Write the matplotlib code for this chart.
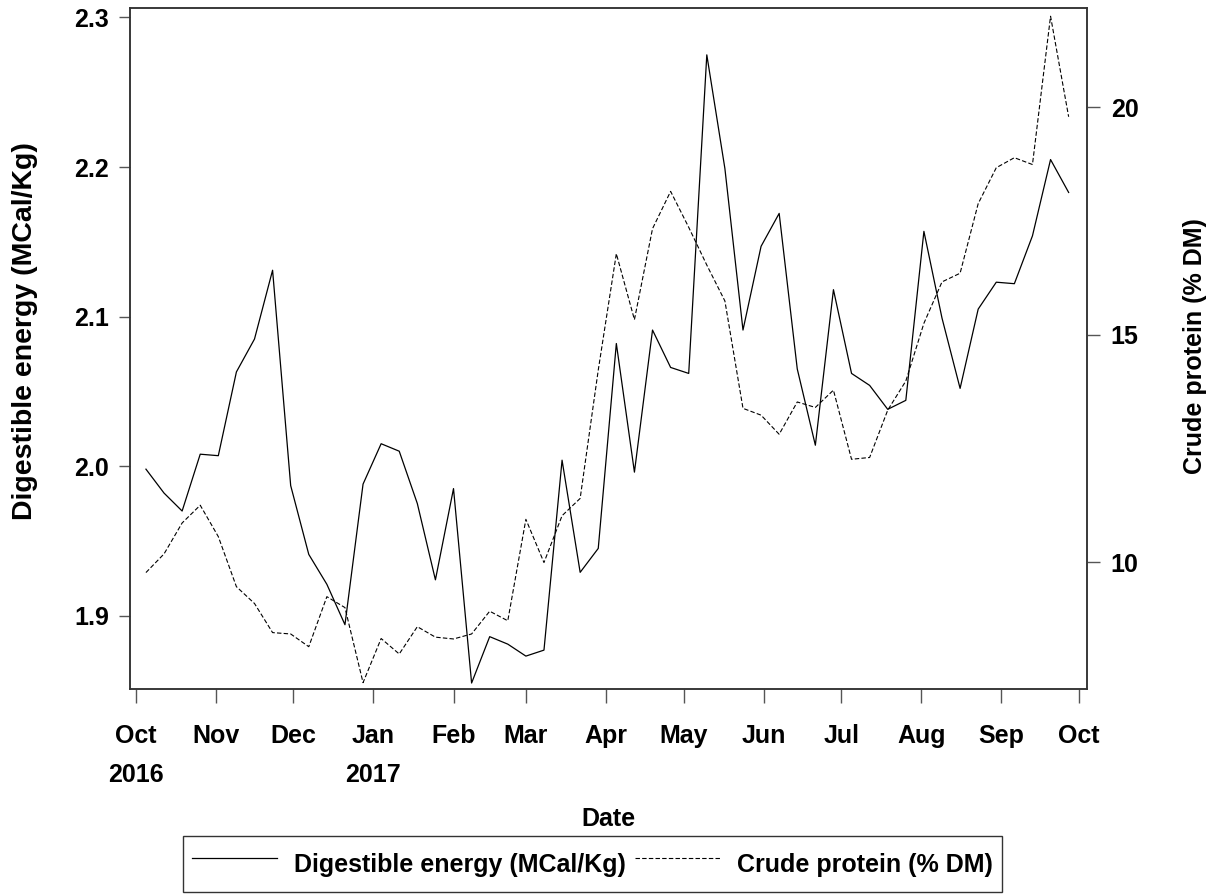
import numpy as np
import pandas as pd
import matplotlib as mpl
mpl.use('Agg')
import matplotlib.pyplot as plt

mpl.rcParams['font.family'] = ['Liberation Sans', 'DejaVu Sans']
mpl.rcParams['font.weight'] = 'bold'

# weekly samples
dates = pd.date_range('2016-10-05', periods=52, freq='7D')

# digestible energy (MCal/Kg)
de = [1.998, 1.982, 1.970, 2.008, 2.007, 2.063, 2.085, 2.131, 1.987, 1.941,
      1.921, 1.894, 1.988, 2.015, 2.010, 1.975, 1.924, 1.985, 1.855, 1.886,
      1.881, 1.873, 1.877, 2.004, 1.929, 1.945, 2.082, 1.996, 2.091, 2.066,
      2.062, 2.275, 2.199, 2.091, 2.147, 2.169, 2.065, 2.014, 2.118, 2.062,
      2.054, 2.038, 2.044, 2.157, 2.099, 2.052, 2.105, 2.123, 2.122, 2.154,
      2.205, 2.183]

# crude protein (% DM)
cp = [9.77, 10.18, 10.86, 11.25, 10.56, 9.46, 9.09, 8.45, 8.42, 8.14,
      9.24, 9.00, 7.35, 8.32, 7.98, 8.58, 8.35, 8.31, 8.42, 8.92,
      8.71, 10.94, 9.99, 11.02, 11.40, 14.22, 16.78, 15.33, 17.33, 18.15,
      17.36, 16.53, 15.74, 13.38, 13.23, 12.81, 13.52, 13.40, 13.78, 12.26,
      12.30, 13.34, 13.98, 15.25, 16.16, 16.35, 17.88, 18.67, 18.89, 18.74,
      22.00, 19.79]

month_ticks = pd.date_range('2016-10-01', '2017-10-01', freq='MS')
month_labels = ['Oct\n2016', 'Nov', 'Dec', 'Jan\n2017', 'Feb', 'Mar', 'Apr',
                'May', 'Jun', 'Jul', 'Aug', 'Sep', 'Oct']

fs = 18
fig = plt.figure(figsize=(12.15, 8.94), dpi=100)
ax = fig.add_axes([0.107, 0.2293, 0.7877, 0.7617])
ax2 = ax.twinx()

l1, = ax.plot(dates, de, color='black', lw=0.9, label='Digestible energy (MCal/Kg)')
l2, = ax2.plot(dates, cp, color='black', lw=0.8, ls=(0, (4, 2)), label='Crude protein (% DM)')

ax.set_xlim(pd.Timestamp('2016-09-28 20:00'), pd.Timestamp('2017-10-04 03:00'))
ax.set_ylim(1.851, 2.3063)
ax2.set_ylim(7.21, 22.18)

ax.set_xticks(month_ticks)
ax.set_xticklabels(month_labels, fontsize=fs, fontweight='bold')
for lbl in ax.get_xticklabels():
    lbl.set_linespacing(1.78)
ax.set_yticks([1.9, 2.0, 2.1, 2.2, 2.3])
ax.set_yticklabels(['1.9', '2.0', '2.1', '2.2', '2.3'], fontsize=fs, fontweight='bold')
ax2.set_yticks([10, 15, 20])
ax2.set_yticklabels(['10', '15', '20'], fontsize=fs, fontweight='bold')

ax.tick_params(axis='x', length=10, width=1, color='#555555', pad=15)
ax.tick_params(axis='y', length=8, width=1, color='#555555', pad=7)
ax2.tick_params(axis='y', length=9, width=1, color='#555555', pad=8)

for a in (ax, ax2):
    for s in a.spines.values():
        s.set_color('#333333')
        s.set_linewidth(1.1)

ax.set_xlabel('Date', fontsize=fs, fontweight='bold')
ax.xaxis.set_label_coords(0.5, -0.174)
ax.set_ylabel('Digestible energy (MCal/Kg)', fontsize=20.5, fontweight='bold')
ax.yaxis.set_label_coords(-0.096, 0.525)
ax2.set_ylabel('Crude protein (% DM)', fontsize=fs, fontweight='bold')
ax2.yaxis.set_label_coords(1.100, 0.503)

leg = fig.legend(handles=[l1, l2], loc='upper center', bbox_to_anchor=(0.4877, 0.0649),
                 ncol=2, prop={'weight': 'bold', 'size': fs},
                 handlelength=3.4, handleheight=2.0, fancybox=False, edgecolor='black',
                 borderpad=0.35, borderaxespad=0, columnspacing=0.35, handletextpad=0.7)
leg.get_frame().set_linewidth(1.0)

fig.savefig('out.png', dpi=100)
